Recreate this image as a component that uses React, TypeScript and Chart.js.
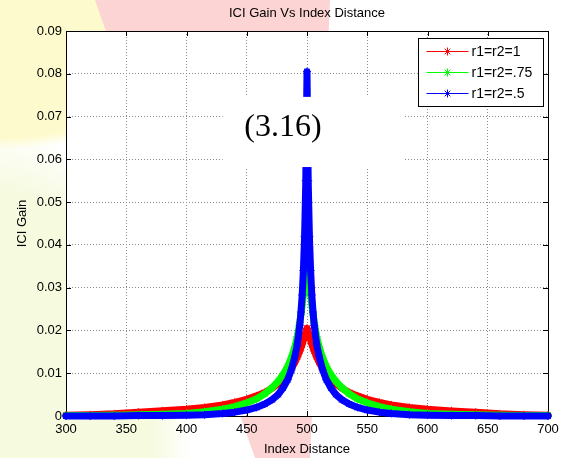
import React, { useEffect, useRef } from "react";
import { Chart, registerables } from "chart.js";

Chart.register(...registerables);

// ---------- data ----------
const xPositions = [
  300, 320, 340, 360, 380, 400, 415, 430, 440, 450, 458, 465, 471, 476, 480, 484, 487, 490, 492, 494,
  495, 496, 497, 498, 499, 500, 501, 502, 503, 504, 505, 506, 508, 510, 513, 516, 520, 524, 529, 535,
  542, 550, 560, 570, 585, 600, 620, 640, 660, 680, 700,
];

const seriesLabels = ["r1=r2=1", "r1=r2=.75", "r1=r2=.5"];

const redValues = [
  0.0002, 0.0003, 0.0005, 0.0009, 0.0012, 0.0016, 0.002, 0.0026, 0.0032, 0.0039, 0.0047, 0.0055, 0.0065,
  0.0075, 0.0085, 0.0098, 0.011, 0.0126, 0.0138, 0.0152, 0.016, 0.0168, 0.0177, 0.0186, 0.0195, 0.0205,
  0.0195, 0.0186, 0.0177, 0.0168, 0.016, 0.0152, 0.0138, 0.0126, 0.011, 0.0098, 0.0085, 0.0075, 0.0065,
  0.0055, 0.0047, 0.0039, 0.0032, 0.0026, 0.002, 0.0016, 0.0012, 0.0009, 0.0005, 0.0003, 0.0002,
];

const greenValues = [
  0.0001, 0.0001, 0.0002, 0.0003, 0.0004, 0.0006, 0.001, 0.0016, 0.0022, 0.0031, 0.004, 0.0052, 0.0066,
  0.0081, 0.0096, 0.0116, 0.0136, 0.0162, 0.0186, 0.0218, 0.0238, 0.026, 0.0285, 0.032, 0.036, 0.041,
  0.036, 0.032, 0.0285, 0.026, 0.0238, 0.0218, 0.0186, 0.0162, 0.0136, 0.0116, 0.0096, 0.0081, 0.0066,
  0.0052, 0.004, 0.0031, 0.0022, 0.0016, 0.001, 0.0006, 0.0004, 0.0003, 0.0002, 0.0001, 0.0001,
];

const blueValues = [
  0.0, 0.0, 0.0, 0.0001, 0.0001, 0.0002, 0.0003, 0.0006, 0.0009, 0.0014, 0.002, 0.0028, 0.0038,
  0.005, 0.0065, 0.0085, 0.0108, 0.014, 0.0168, 0.0212, 0.0243, 0.0283, 0.034, 0.042, 0.055, 0.0805,
  0.055, 0.042, 0.034, 0.0283, 0.0243, 0.0212, 0.0168, 0.014, 0.0108, 0.0085, 0.0065, 0.005, 0.0038,
  0.0028, 0.002, 0.0014, 0.0009, 0.0006, 0.0003, 0.0002, 0.0001, 0.0001, 0.0, 0.0, 0.0,
];

const xTicks = [300, 350, 400, 450, 500, 550, 600, 650, 700];
const yTicks = [0, 0.01, 0.02, 0.03, 0.04, 0.05, 0.06, 0.07, 0.08, 0.09];

const titleText = "ICI Gain Vs Index Distance";
const xLabel = "Index Distance";
const yLabel = "ICI Gain";
const noteText = "(3.16)";
// note box (data coordinates)
const noteBoxX = [430, 581];
const noteBoxY = [0.0582, 0.0746];
const noteAt = [480, 0.0675];

const seriesColors = ["#ff0000", "#00ff00", "#0000ff"];

const FONT = "'Liberation Sans', Arial, Helvetica, sans-serif";

function drawStar(ctx: CanvasRenderingContext2D, x: number, y: number, r: number) {
  ctx.beginPath();
  ctx.moveTo(x - r, y);
  ctx.lineTo(x + r, y);
  ctx.moveTo(x, y - r);
  ctx.lineTo(x, y + r);
  const d = r * Math.SQRT1_2;
  ctx.moveTo(x - d, y - d);
  ctx.lineTo(x + d, y + d);
  ctx.moveTo(x - d, y + d);
  ctx.lineTo(x + d, y - d);
  ctx.stroke();
}

const framePlugin = {
  id: "matlabFrame",
  beforeDraw(chart: any) {
    const { ctx, chartArea: a } = chart;
    ctx.save();
    ctx.fillStyle = "#ffffff";
    ctx.fillRect(a.left, a.top, a.right - a.left, a.bottom - a.top);
    ctx.restore();
  },
  beforeDatasetsDraw(chart: any) {
    const { ctx, chartArea: a, scales } = chart;
    ctx.save();
    ctx.strokeStyle = "#000000";
    ctx.lineWidth = 1;
    ctx.setLineDash([]);
    ctx.strokeRect(Math.round(a.left) + 0.5, Math.round(a.top) + 0.5, Math.round(a.right - a.left), Math.round(a.bottom - a.top));
    const tl = 5;
    ctx.beginPath();
    for (const t of scales.x.ticks) {
      const px = Math.round(scales.x.getPixelForValue(t.value)) + 0.5;
      ctx.moveTo(px, a.bottom);
      ctx.lineTo(px, a.bottom - tl);
      ctx.moveTo(px, a.top);
      ctx.lineTo(px, a.top + tl);
    }
    for (const t of scales.y.ticks) {
      const py = Math.round(scales.y.getPixelForValue(t.value)) + 0.5;
      ctx.moveTo(a.left, py);
      ctx.lineTo(a.left + tl, py);
      ctx.moveTo(a.right, py);
      ctx.lineTo(a.right - tl, py);
    }
    ctx.stroke();
    ctx.restore();
  },
  afterDatasetsDraw(chart: any) {
    const { ctx, chartArea: a, scales } = chart;
    // note box with equation number
    const x0 = scales.x.getPixelForValue(noteBoxX[0]);
    const x1 = scales.x.getPixelForValue(noteBoxX[1]);
    const y0 = scales.y.getPixelForValue(noteBoxY[1]);
    const y1 = scales.y.getPixelForValue(noteBoxY[0]);
    ctx.save();
    ctx.fillStyle = "#ffffff";
    ctx.fillRect(x0, y0, x1 - x0, y1 - y0);
    ctx.fillStyle = "#000000";
    ctx.font = "32px 'Liberation Serif', 'Times New Roman', serif";
    ctx.textAlign = "center";
    ctx.textBaseline = "middle";
    ctx.fillText(noteText, scales.x.getPixelForValue(noteAt[0]), scales.y.getPixelForValue(noteAt[1]));
    ctx.restore();

    // legend box
    const ds = chart.data.datasets;
    const bw = 125;
    const bh = 68;
    const bx = Math.round(a.right - 5 - bw) + 0.5;
    const by = Math.round(a.top + 7) + 0.5;
    ctx.save();
    ctx.fillStyle = "#ffffff";
    ctx.fillRect(bx, by, bw, bh);
    ctx.strokeStyle = "#000000";
    ctx.lineWidth = 1;
    ctx.strokeRect(bx, by, bw, bh);
    ctx.font = `14px ${FONT}`;
    ctx.textBaseline = "middle";
    ctx.textAlign = "left";
    ds.forEach((d: any, i: number) => {
      const ry = by + 13 + i * 21;
      ctx.strokeStyle = d.borderColor;
      ctx.lineWidth = 1;
      ctx.beginPath();
      ctx.moveTo(bx + 8, ry);
      ctx.lineTo(bx + 50, ry);
      ctx.stroke();
      drawStar(ctx, bx + 29, ry, 4);
      ctx.fillStyle = "#000000";
      ctx.fillText(d.label, bx + 53, ry + 1);
    });
    ctx.restore();
  },
};

export default function App() {
  const ref = useRef<HTMLCanvasElement>(null);

  useEffect(() => {
    document.body.style.margin = "0";
    const canvas = ref.current;
    if (!canvas) return;

    const valuesList = [redValues, greenValues, blueValues];
    const datasets = valuesList.map((vals, i) => ({
      label: seriesLabels[i],
      data: xPositions.map((x, k) => ({ x, y: vals[k] })),
      borderColor: seriesColors[i],
      backgroundColor: seriesColors[i],
      borderWidth: 7,
      borderJoinStyle: "round",
      borderCapStyle: "round",
      pointStyle: "star",
      pointRadius: 4,
      pointHoverRadius: 4,
      pointBorderWidth: 1,
      pointBorderColor: seriesColors[i],
      tension: 0,
      fill: false,
      order: 3 - i,
      clip: 8,
    }));

    const chart = new Chart(canvas, {
      type: "line",
      data: { datasets } as any,
      options: {
        animation: false,
        responsive: false,
        devicePixelRatio: 1,
        events: [],
        layout: { padding: { left: 0, right: 20, top: 0, bottom: 0 } },
        plugins: {
          legend: { display: false },
          tooltip: { enabled: false },
          title: {
            display: true,
            text: titleText,
            fullSize: false,
            color: "#000000",
            font: { family: FONT, size: 13, weight: "normal" },
            padding: { top: 5.5, bottom: 9.9 },
          },
        },
        scales: {
          x: {
            type: "linear",
            min: 300,
            max: 700,
            afterBuildTicks: (s: any) => {
              s.ticks = xTicks.map((v) => ({ value: v }));
            },
            afterFit: (s: any) => {
              s.height = 42;
            },
            ticks: {
              color: "#000000",
              font: { family: FONT, size: 13 },
              padding: 6,
              maxRotation: 0,
              autoSkip: false,
              callback: (v: any) => String(v),
            },
            grid: { color: "#8a8a8a", lineWidth: 1, drawTicks: false, borderDash: [1, 2] } as any,
            border: { display: false, dash: [1, 2] },
            title: {
              display: true,
              text: xLabel,
              color: "#000000",
              font: { family: FONT, size: 13 },
              padding: { top: 0, bottom: 1.2 },
            },
          },
          y: {
            type: "linear",
            min: 0,
            max: 0.09,
            afterBuildTicks: (s: any) => {
              s.ticks = yTicks.map((v) => ({ value: v }));
            },
            afterFit: (s: any) => {
              s.width = 66;
            },
            ticks: {
              color: "#000000",
              font: { family: FONT, size: 13 },
              padding: 4,
              autoSkip: false,
              callback: (v: any) => (v === 0 ? "0" : String(Number(Number(v).toFixed(2)))),
            },
            grid: { color: "#8a8a8a", lineWidth: 1, drawTicks: false, borderDash: [1, 2] } as any,
            border: { display: false, dash: [1, 2] },
            title: {
              display: true,
              text: yLabel,
              color: "#000000",
              font: { family: FONT, size: 13 },
              padding: { top: 14.2, bottom: 0 },
            },
          },
        },
      } as any,
      plugins: [framePlugin],
    });

    return () => {
      chart.destroy();
    };
  }, []);

  const bgLayers = [
    "radial-gradient(ellipse 230px 150px at 0px 0px, rgba(253,251,205,1) 0%, rgba(253,251,205,1) 92%, rgba(255,255,255,0) 100%)",
    "radial-gradient(ellipse 190px 330px at 0px 458px, rgba(246,250,222,1) 0%, rgba(246,250,222,1) 80%, rgba(255,255,255,0) 100%)",
  ].join(", ");

  return (
    <div style={{ width: 568, height: 458, position: "relative", background: bgLayers, backgroundColor: "#ffffff" }}>
      <div
        style={{
          position: "absolute",
          left: 0,
          top: 0,
          width: 568,
          height: 458,
          background: "rgba(252,212,212,1)",
          clipPath: "polygon(95px 0px, 330px 0px, 310px 458px, 255px 458px)",
        }}
      />
      <canvas
        ref={ref}
        width={568}
        height={458}
        style={{ display: "block", width: 568, height: 458, position: "relative" }}
      />
    </div>
  );
}
